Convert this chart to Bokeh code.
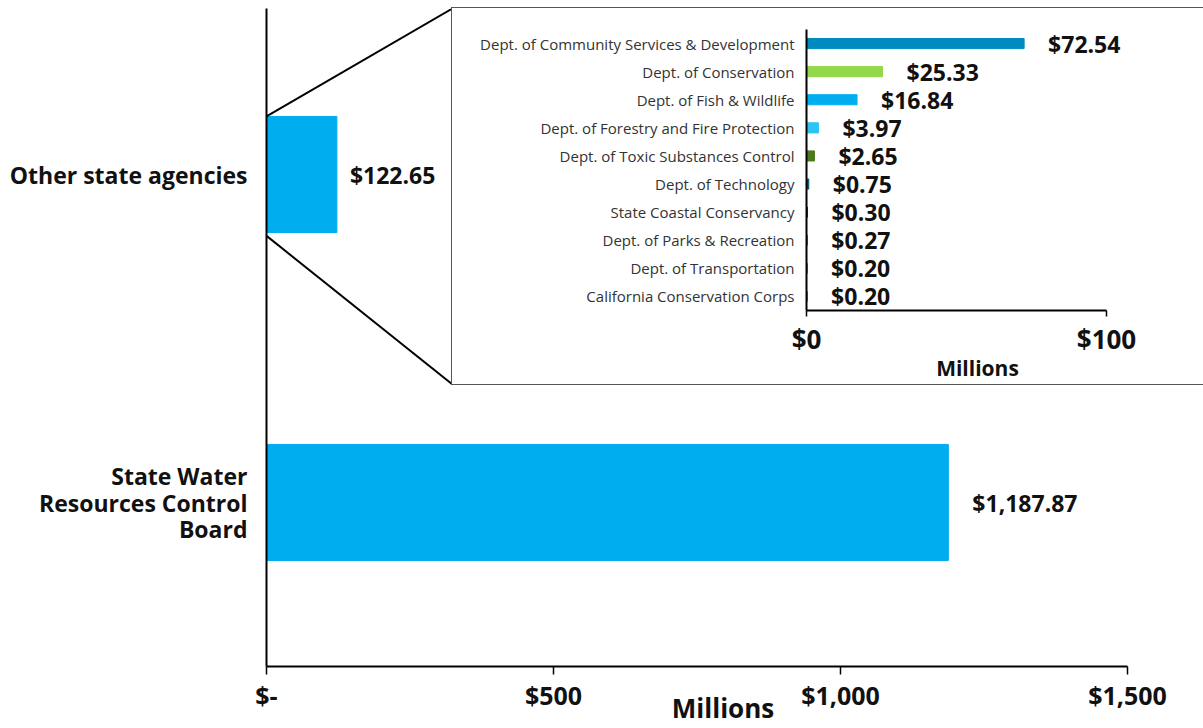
from bokeh.plotting import figure
from bokeh.models import Range1d, FixedTicker, ColumnDataSource, LabelSet
from bokeh.layouts import column
from bokeh.embed import file_html
from bokeh.resources import INLINE
from bokeh.core.properties import value

# ---------------- data ----------------
main_categories = ["State Water\nResources Control\nBoard", "Other state agencies"]
main_values = [1187.87, 122.65]
main_value_labels = ["$1,187.87", "$122.65"]
main_ticks = [0, 500, 1000, 1500]
main_tick_labels = ["$-", "$500", "$1,000", "$1,500"]

inset_categories = [
    "Dept. of Community Services & Development",
    "Dept. of Conservation",
    "Dept. of Fish & Wildlife",
    "Dept. of Forestry and Fire Protection",
    "Dept. of Toxic Substances Control",
    "Dept. of Technology",
    "State Coastal Conservancy",
    "Dept. of Parks & Recreation",
    "Dept. of Transportation",
    "California Conservation Corps",
]
inset_values = [72.54, 25.33, 16.84, 3.97, 2.65, 0.75, 0.30, 0.27, 0.20, 0.20]
inset_value_labels = ["$72.54", "$25.33", "$16.84", "$3.97", "$2.65",
                      "$0.75", "$0.30", "$0.27", "$0.20", "$0.20"]
inset_colors = ["#008BC0", "#92D84A", "#00AEEF", "#2BC4F3", "#4C7A1E",
                "#0B5270", "#0C2F45", "#3B6A18", "#0A3A50", "#0A3A50"]
inset_ticks = [0, 100]
inset_tick_labels = ["$0", "$100"]

FONT = "Open Sans"
BAR_BLUE = "#00ADEE"
INK = "#111111"

# ---------------- main figure ----------------
W, H = 1203, 728
FL, FT, FB = 266, 8, 666           # frame edges in px
AX_END_PX = 1127                    # pixel where the axis ends ($1,500)
FR = 1179                           # frame right edge (room for label centring)
x_axis_max = 1500
px_per_unit = (AX_END_PX - FL) / x_axis_max
x_max = (FR - FL) / px_per_unit
y_max = 2 * (FB - FT) / (FB - 10)

main = figure(width=W, height=H, output_backend="svg", toolbar_location=None,
              x_range=Range1d(0, x_max), y_range=Range1d(0, y_max),
              min_border_left=FL, min_border_right=W - FR,
              min_border_top=FT, min_border_bottom=H - FB)
main.frame_align = False
main.outline_line_color = None
main.grid.grid_line_color = None

ypos = [i + 0.5 for i in range(len(main_categories))]
src = ColumnDataSource(dict(y=ypos, v=main_values, lab=main_value_labels, off=[24, 13]))
bar_h = 0.354
main.hbar(y="y", left=0, right="v", height=bar_h, color=BAR_BLUE, source=src)
main.add_layout(LabelSet(x="v", y="y", text="lab", source=src, x_offset="off",
                         text_baseline="middle", text_font=value(FONT), text_font_style="bold",
                         text_font_size="23px", text_color=INK))

# connector lines from the small bar to the inset box corners
inset_left_px, inset_top_px, inset_bot_px = 452, 8, 384
sy = y_max / (FB - FT)
x_corner = (inset_left_px - FL) / px_per_unit
y_top_corner = (FB - inset_top_px) * sy
y_bot_corner = (FB - inset_bot_px) * sy
yc = ypos[1]
main.segment(x0=[0, 0], y0=[yc + bar_h / 2, yc - bar_h / 2 - 0.01],
             x1=[x_corner, x_corner], y1=[y_top_corner, y_bot_corner],
             line_color="#000000", line_width=2)

main.xaxis.bounds = (0, x_axis_max)
main.xaxis.ticker = FixedTicker(ticks=main_ticks)
main.xaxis.major_label_overrides = {t: l for t, l in zip(main_ticks, main_tick_labels)}
main.xaxis.minor_tick_line_color = None
main.xaxis.major_tick_in = 0
main.xaxis.major_tick_out = 8
main.xaxis.axis_line_width = 2
main.xaxis.major_tick_line_width = 1.5
main.xaxis.major_label_standoff = 3
main.xaxis.major_label_text_font = FONT
main.xaxis.major_label_text_font_style = "bold"
main.xaxis.major_label_text_font_size = "25px"
main.xaxis.major_label_text_color = INK
main.xaxis.axis_label = "Millions"
main.xaxis.axis_label_standoff = -25
main.xaxis.axis_label_text_font = FONT
main.xaxis.axis_label_text_font_style = "bold"
main.xaxis.axis_label_text_font_size = "26px"
main.xaxis.axis_label_text_color = INK

main.yaxis.ticker = FixedTicker(ticks=ypos)
main.yaxis.major_label_overrides = {p: c for p, c in zip(ypos, main_categories)}
main.yaxis.minor_tick_line_color = None
main.yaxis.major_tick_line_color = None
main.yaxis.axis_line_width = 2
main.yaxis.major_label_standoff = 13
main.yaxis.major_label_text_font = FONT
main.yaxis.major_label_text_font_style = "bold"
main.yaxis.major_label_text_font_size = "23px"
main.yaxis.major_label_text_line_height = 0.82
main.yaxis.major_label_text_color = INK
main.yaxis.major_label_text_align = "right"

# ---------------- inset figure ----------------
IW, IH = 751, 376
IFL, IFT, IFB = 354, 21, 303       # frame edges inside inset, px
I_AX_END = 654                      # $100 position inside inset
IFR = 696                           # frame right edge inside inset
inset_axis_max = 100
ipx = (I_AX_END - IFL) / inset_axis_max
n = len(inset_categories)
inset = figure(width=IW, height=IH, output_backend="svg", toolbar_location=None,
               x_range=Range1d(0, (IFR - IFL) / ipx), y_range=Range1d(0, n),
               min_border_left=IFL, min_border_right=IW - IFR,
               min_border_top=IFT, min_border_bottom=IH - IFB)
inset.frame_align = False
inset.outline_line_color = None
inset.grid.grid_line_color = None

iy = [n - i - 0.5 for i in range(n)]
isrc = ColumnDataSource(dict(y=iy, v=inset_values, c=inset_colors, lab=inset_value_labels))
inset.hbar(y="y", left=0, right="v", height=0.36, color="c", source=isrc)
inset.add_layout(LabelSet(x="v", y="y", text="lab", source=isrc, x_offset=24,
                          text_baseline="middle", text_font=value(FONT), text_font_style="bold",
                          text_font_size="23px", text_color=INK))

inset.xaxis.bounds = (0, inset_axis_max)
inset.xaxis.ticker = FixedTicker(ticks=inset_ticks)
inset.xaxis.major_label_overrides = {t: l for t, l in zip(inset_ticks, inset_tick_labels)}
inset.xaxis.minor_tick_line_color = None
inset.xaxis.major_tick_in = 0
inset.xaxis.major_tick_out = 6
inset.xaxis.axis_line_width = 2
inset.xaxis.major_tick_line_width = 1.5
inset.xaxis.major_label_standoff = 4
inset.xaxis.major_label_text_font = FONT
inset.xaxis.major_label_text_font_style = "bold"
inset.xaxis.major_label_text_font_size = "26px"
inset.xaxis.major_label_text_color = INK
inset.xaxis.axis_label = "Millions"
inset.xaxis.axis_label_standoff = -6
inset.xaxis.axis_label_text_font = FONT
inset.xaxis.axis_label_text_font_style = "bold"
inset.xaxis.axis_label_text_font_size = "21px"
inset.xaxis.axis_label_text_color = INK

inset.yaxis.ticker = FixedTicker(ticks=iy)
inset.yaxis.major_label_overrides = {p: c for p, c in zip(iy, inset_categories)}
inset.yaxis.minor_tick_line_color = None
inset.yaxis.major_tick_line_color = None
inset.yaxis.axis_line_width = 2
inset.yaxis.major_label_standoff = 6
inset.yaxis.major_label_text_font = FONT
inset.yaxis.major_label_text_font_size = "15px"
inset.yaxis.major_label_text_color = "#333333"

inset.styles = {"position": "absolute", "left": f"{inset_left_px}px", "top": f"{inset_top_px}px",
                "outline": "1.5px solid #555555", "background-color": "white"}

root = column(main, inset, styles={"position": "relative"})
open("out.html", "w").write(file_html(root, INLINE))
